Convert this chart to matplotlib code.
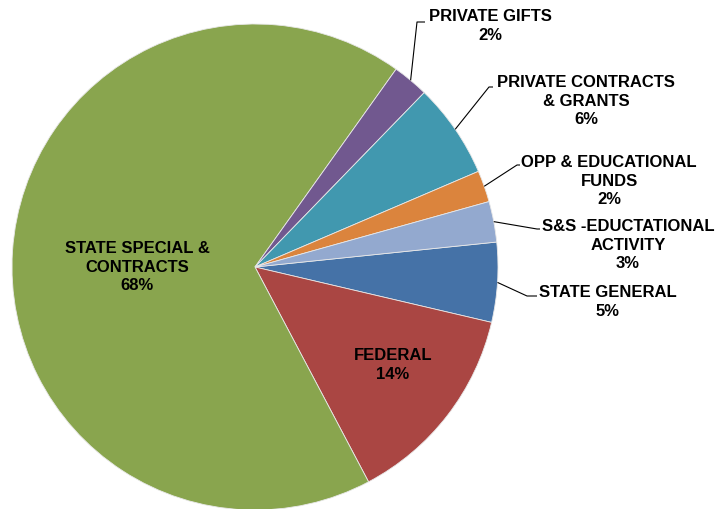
import matplotlib
matplotlib.use("Agg")
import matplotlib.pyplot as plt
import numpy as np

categories = ["STATE GENERAL", "FEDERAL", "STATE SPECIAL &\nCONTRACTS", "PRIVATE GIFTS",
              "PRIVATE CONTRACTS\n& GRANTS", "OPP & EDUCATIONAL\nFUNDS", "S&S -EDUCTATIONAL\nACTIVITY"]
values = [5.3, 13.6, 67.6, 2.4, 6.3, 2.1, 2.7]
colors = ["#4572A7", "#AA4643", "#89A54E", "#71588F", "#4198AF", "#DB843D", "#93A9CF"]

W, H = 716, 510
fig = plt.figure(figsize=(W / 100, H / 100), dpi=100)
ax = fig.add_axes([0, 0, 1, 1])

cx, cy, R = 255, H - 268, 243
wedges, _ = ax.pie(values, colors=colors, startangle=5.9, counterclock=False,
                   center=(cx, cy), radius=R, frame=True,
                   wedgeprops=dict(edgecolor="#E8E8E8", linewidth=0.6))
ax.set_xlim(0, W)
ax.set_ylim(0, H)
ax.set_aspect("equal")
ax.axis("off")

plt.rcParams['font.family'] = ['Liberation Sans', 'DejaVu Sans']
fs = 12

# label layout: (text center), elbow point, horizontal end (px from top)
layout = {
    0: ((608, 302), (527, 297), (537, 297)),
    1: ((393, 365), None, None),
    2: ((137, 267), None, None),
    3: ((490, 26), (417, 23), (425, 23)),
    4: ((586, 101), (489, 88), (493, 88)),
    5: ((609, 181), (517, 166), (520, 166)),
    6: ((628, 245), (537, 230), (540, 230)),
}

for i, (cat, val) in enumerate(zip(categories, values)):
    (tx, ty), elbow, hend = layout[i]
    ax.text(tx, H - ty, f"{cat}\n{round(val)}%", ha="center", va="center",
            fontsize=fs, fontweight="bold", linespacing=1.3, color="black")
    if elbow is not None:
        w = wedges[i]
        mid = np.deg2rad((w.theta1 + w.theta2) / 2)
        sx, sy = cx + R * np.cos(mid), cy + R * np.sin(mid)
        ax.plot([sx, elbow[0], hend[0]], [sy, H - elbow[1], H - hend[1]],
                color="black", linewidth=0.8, solid_capstyle="butt")

fig.savefig("out.png", dpi=100)
